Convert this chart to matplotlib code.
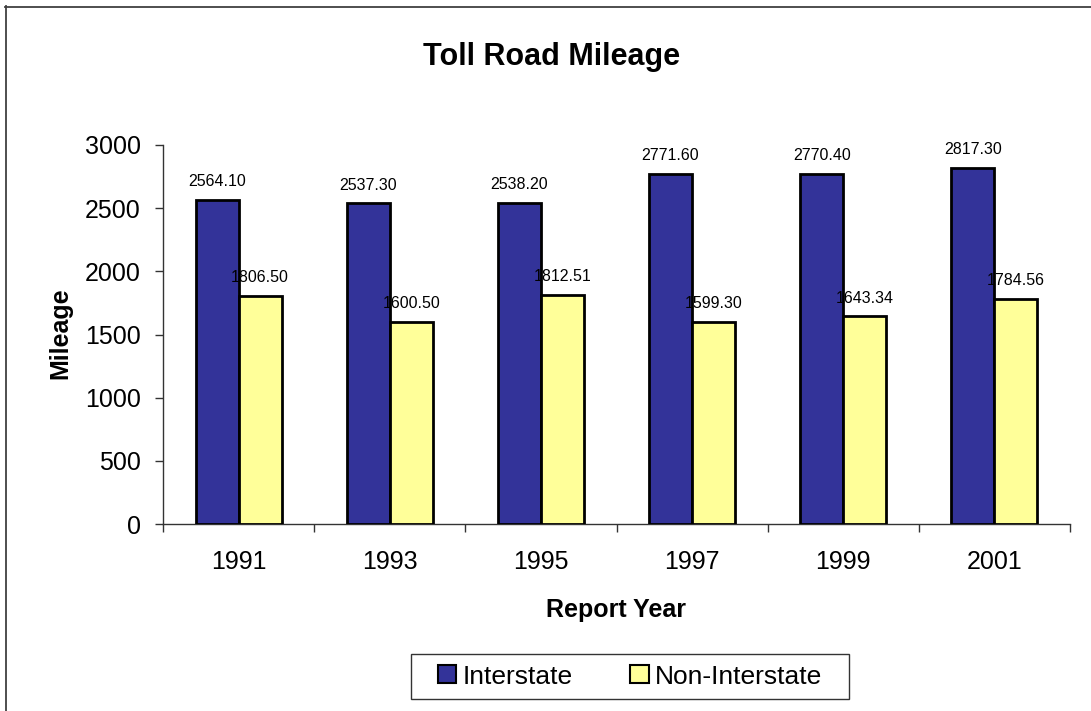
import numpy as np
import matplotlib
matplotlib.use("Agg")
import matplotlib.pyplot as plt
from matplotlib.patches import Rectangle
from matplotlib.lines import Line2D

plt.rcParams['font.family'] = ['Liberation Sans', 'DejaVu Sans']

# 数据
years = ["1991", "1993", "1995", "1997", "1999", "2001"]
interstate = [2564.10, 2537.30, 2538.20, 2771.60, 2770.40, 2817.30]
non_interstate = [1806.50, 1600.50, 1812.51, 1599.30, 1643.34, 1784.56]

W, H = 1091, 711
fig = plt.figure(figsize=(W / 100, H / 100), dpi=100)
ax = fig.add_axes([163 / W, 1 - 524 / H, (1070 - 163) / W, (524 - 145) / H])

x = np.arange(len(years))
w = 0.285
b1 = ax.bar(x - w / 2, interstate, w, color="#333399", edgecolor="black",
            linewidth=2, label="Interstate", zorder=3)
b2 = ax.bar(x + w / 2, non_interstate, w, color="#FFFF99", edgecolor="black",
            linewidth=2, label="Non-Interstate", zorder=3)

for bars, vals in [(b1, interstate), (b2, non_interstate)]:
    for r, v in zip(bars, vals):
        ax.annotate(f"{v:.2f}", (r.get_x() + r.get_width() / 2, r.get_height()),
                    xytext=(0, 10), textcoords="offset points",
                    ha="center", va="baseline", fontsize=11.5)

ax.set_ylim(0, 3000)
ax.set_yticks(np.arange(0, 3001, 500))
ax.set_xlim(-0.5, len(years) - 0.5)
ax.set_xticks(x)
ax.set_xticklabels(years)
ax.set_xticks(np.arange(-0.5, len(years), 1), minor=True)
ax.tick_params(axis="x", which="major", length=0, pad=19, labelsize=18)
ax.tick_params(axis="x", which="minor", length=6, width=1, color="#333333")
ax.tick_params(axis="y", length=6, width=1, pad=10, labelsize=18, color="#333333")

for s in ["top", "right"]:
    ax.spines[s].set_visible(False)
for s in ["left", "bottom"]:
    ax.spines[s].set_color("#333333")
    ax.spines[s].set_linewidth(1)

# 标题和坐标轴标签
fig.text(552 / W, 1 - 65 / H, "Toll Road Mileage", ha="center", va="baseline",
         fontsize=22, fontweight="bold")
fig.text(616 / W, 1 - 617 / H, "Report Year", ha="center", va="baseline",
         fontsize=18, fontweight="bold")
fig.text(60 / W, 1 - 333 / H, "Mileage", ha="center", va="center",
         rotation=90, fontsize=18, fontweight="bold")

# 图例
leg = fig.legend(loc="center", bbox_to_anchor=(630 / W, 1 - 676.5 / H),
                 ncol=2, fontsize=19, frameon=False,
                 handlelength=0.69, handleheight=0.69, handletextpad=0.23,
                 columnspacing=2.2, borderpad=0)
for h in leg.legend_handles:
    h.set_linewidth(1.5)
fig.patches.append(Rectangle((411 / W, 1 - 699 / H), 438 / W, 45 / H,
                             transform=fig.transFigure, fill=False,
                             edgecolor="#333333", linewidth=1))

# 外边框（只有上边和左边）
fig.lines.append(Line2D([5 / W, 1], [1 - 6.5 / H, 1 - 6.5 / H],
                        transform=fig.transFigure, color="#404040", linewidth=1.3))
fig.lines.append(Line2D([5.5 / W, 5.5 / W], [0, 1 - 6 / H],
                        transform=fig.transFigure, color="#404040", linewidth=1.3))

fig.savefig("out.png", dpi=100)
